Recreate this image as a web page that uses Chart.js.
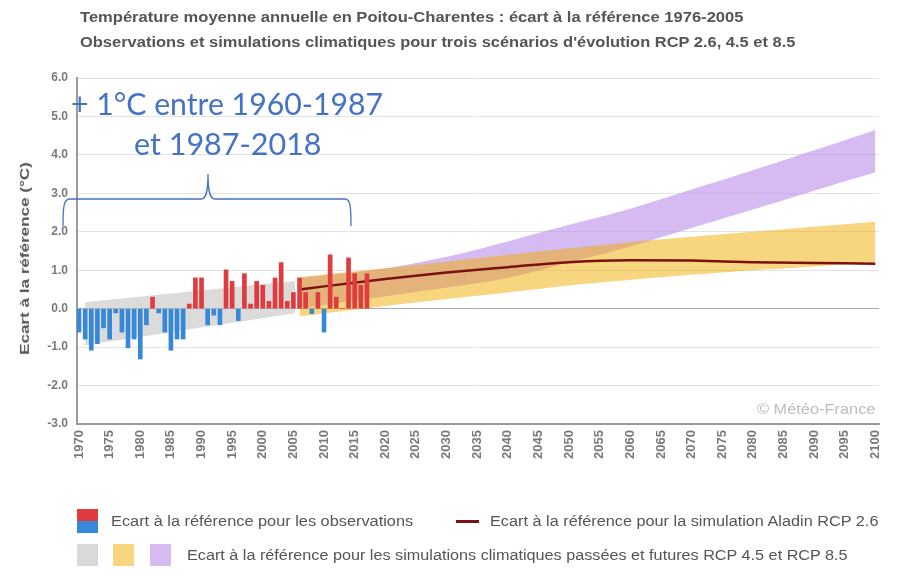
<!DOCTYPE html>
<html lang="fr">
<head>
<meta charset="utf-8">
<title>Température moyenne annuelle en Poitou-Charentes</title>
<script src="https://cdn.jsdelivr.net/npm/chart.js@4.4.1/dist/chart.umd.min.js"></script>
<style>
  body { margin: 0; background: #fff; }
  #wrap { position: relative; width: 897px; height: 577px; overflow: hidden; font-family: "Liberation Sans", Arial, sans-serif; }
  #chart { position: absolute; left: 0; top: 0; }
  .txt { position: absolute; white-space: nowrap; transform-origin: left center; line-height: 1; }
  .title { font-weight: bold; font-size: 14px; color: #555; }
  .leg { font-size: 14px; color: #555; }
  .note { font-family: Lato, "Open Sans", sans-serif; font-size: 30px; color: #4472C4; }
  .sw { position: absolute; }
  #brace { position: absolute; left: 0; top: 0; pointer-events: none; }
</style>
</head>
<body>
<div id="wrap">
  <canvas id="chart" width="897" height="577"></canvas>

  <div class="txt title" id="title1">Température moyenne annuelle en Poitou-Charentes : écart à la référence 1976-2005</div>
  <div class="txt title" id="title2">Observations et simulations climatiques pour trois scénarios d'évolution RCP 2.6, 4.5 et 8.5</div>
  <div class="txt title" id="ytitle" style="font-size:13px">Ecart à la référence (°C)</div>
  <div class="txt leg" id="watermark" style="color:#bdbdbd">© Météo-France</div>

  <div class="txt note" id="note1">+ 1°C entre 1960-1987</div>
  <div class="txt note" id="note2">et 1987-2018</div>
  <svg id="brace" width="897" height="577">
    <path d="M63,226 C63,205 64,199 70,199 L201,199 C206,199 208,192 208,174 C208,192 210,199 215,199 L345,199 C350,199 351,205 351,226"
          fill="none" stroke="#4472C4" stroke-width="1.3"/>
  </svg>

  <!-- légende -->
  <div class="sw" style="left:77px;top:509px;width:21px;height:12px;background:#E03C40"></div>
  <div class="sw" style="left:77px;top:521px;width:21px;height:12px;background:#3788D6"></div>
  <div class="txt leg" id="leg1">Ecart à la référence pour les observations</div>
  <div class="sw" style="left:456px;top:520px;width:23px;height:3px;background:#7A1212"></div>
  <div class="txt leg" id="leg2">Ecart à la référence pour la simulation Aladin RCP 2.6</div>
  <div class="sw" style="left:77px;top:544px;width:21px;height:22px;background:#D9D9D9"></div>
  <div class="sw" style="left:113px;top:544px;width:21px;height:22px;background:#F8D57E"></div>
  <div class="sw" style="left:150px;top:544px;width:21px;height:22px;background:#D5BBF2"></div>
  <div class="txt leg" id="leg3">Ecart à la référence pour les simulations climatiques passées et futures RCP 4.5 et RCP 8.5</div>
</div>

<script>
// observations (écart annuel, °C)
const obsYears = [1970, 1971, 1972, 1973, 1974, 1975, 1976, 1977, 1978, 1979,
  1980, 1981, 1982, 1983, 1984, 1985, 1986, 1987, 1988, 1989,
  1990, 1991, 1992, 1993, 1994, 1995, 1996, 1997, 1998, 1999,
  2000, 2001, 2002, 2003, 2004, 2005, 2006, 2007, 2008, 2009,
  2010, 2011, 2012, 2013, 2014, 2015, 2016, 2017];
const obsValues = [-0.61, -0.79, -1.08, -0.91, -0.50, -0.79, -0.11, -0.61, -1.02, -0.79,
  -1.31, -0.42, 0.30, -0.11, -0.61, -1.08, -0.79, -0.79, 0.12, 0.80,
  0.80, -0.42, -0.17, -0.42, 1.01, 0.71, -0.31, 0.91, 0.12, 0.71,
  0.61, 0.19, 0.80, 1.20, 0.19, 0.42, 0.80, 0.42, -0.13, 0.42,
  -0.61, 1.40, 0.30, 0.00, 1.32, 0.91, 0.61, 0.91];

// simulations passées (enveloppe grise)
const histYears = [1971, 2005.3];
const histLow = [-0.95, -0.12];
const histHigh = [0.17, 0.72];

// simulations futures
const futYears = [2006, 2020, 2030, 2040, 2050, 2060, 2070, 2080, 2090, 2100];
const rcp45Low = [-0.20, 0.07, 0.25, 0.42, 0.60, 0.75, 0.88, 1.00, 1.10, 1.20];
const rcp45High = [0.82, 1.05, 1.22, 1.40, 1.57, 1.73, 1.87, 2.00, 2.13, 2.26];
const rcp85Low = [0.00, 0.32, 0.55, 0.80, 1.20, 1.62, 2.10, 2.58, 3.07, 3.55];
const rcp85High = [0.80, 1.05, 1.35, 1.75, 2.18, 2.60, 3.10, 3.60, 4.12, 4.65];

// Aladin RCP 2.6
const aladinYears = [2006, 2010, 2020, 2030, 2040, 2050, 2060, 2070, 2080, 2090, 2100];
const aladinValues = [0.50, 0.58, 0.77, 0.94, 1.08, 1.21, 1.26, 1.25, 1.21, 1.19, 1.17];

const RED = "#E03C40";
const BLUE = "#3788D6";

function pts(xs, ys) {
  return xs.map((x, i) => ({ x: x, y: ys[i] }));
}

function band(xs, ys, order, fill, color) {
  return {
    type: "line",
    data: pts(xs, ys),
    order: order,
    borderWidth: 0,
    borderColor: "rgba(0,0,0,0)",
    backgroundColor: color || "rgba(0,0,0,0)",
    pointRadius: 0,
    tension: 0.3,
    fill: fill
  };
}

const ctx = document.getElementById("chart").getContext("2d");
new Chart(ctx, {
  type: "bar",
  data: {
    datasets: [
      {
        label: "observations",
        data: pts(obsYears, obsValues),
        order: 0,
        backgroundColor: obsValues.map(v => v >= 0 ? RED : BLUE),
        borderWidth: 0,
        barThickness: 4
      },
      {
        type: "line",
        label: "Aladin RCP 2.6",
        data: pts(aladinYears, aladinValues),
        order: 1,
        borderColor: "#7A1212",
        borderWidth: 2.5,
        pointRadius: 0,
        cubicInterpolationMode: "monotone",
        fill: false
      },
      band(futYears, rcp45Low, 2, false),
      band(futYears, rcp45High, 2, 2, "rgba(241, 172, 0, 0.5)"),
      band(futYears, rcp85Low, 3, false),
      band(futYears, rcp85High, 3, 4, "rgba(185, 142, 233, 0.6)"),
      band(histYears, histLow, 4, false),
      band(histYears, histHigh, 4, 6, "rgba(190, 190, 190, 0.55)")
    ]
  },
  options: {
    responsive: false,
    animation: false,
    layout: { padding: { left: 0, right: 16, top: 78, bottom: 113 } },
    plugins: {
      legend: { display: false },
      tooltip: { enabled: false }
    },
    scales: {
      x: {
        type: "linear",
        min: 1969.67,
        max: 2100.6,
        offset: false,
        grid: { display: false, drawTicks: false },
        border: { display: true, color: "#9a9a9a", width: 2 },
        afterFit: s => { s.height = 40; },
        ticks: {
          stepSize: 5,
          includeBounds: false,
          autoSkip: false,
          minRotation: 90,
          maxRotation: 90,
          padding: 6,
          color: "#7a7a7a",
          font: { family: "Liberation Sans", size: 13, weight: "bold" },
          callback: v => String(v)
        }
      },
      y: {
        min: -3,
        max: 6,
        grid: {
          drawTicks: false,
          color: c => c.tick && c.tick.value === 0 ? "#ababab" : "#e3e3e3"
        },
        border: { display: true, color: "#9a9a9a", width: 2 },
        afterFit: s => { s.width = 77; },
        ticks: {
          stepSize: 1,
          padding: 9,
          color: "#7a7a7a",
          font: { family: "Liberation Sans", size: 12, weight: "bold" },
          callback: v => Number(v).toFixed(1)
        }
      }
    }
  }
});

// placement des textes : gauche, centre vertical, largeur visée
function place(id, left, cy, width) {
  const el = document.getElementById(id);
  const w = el.offsetWidth, h = el.offsetHeight;
  el.style.left = left + "px";
  el.style.top = (cy - h / 2) + "px";
  el.style.transform = `scaleX(${width / w})`;
}

function placeCenter(id, cx, cy, width) {
  place(id, cx - width / 2, cy, width);
}

place("title1", 80, 17, 664);
place("title2", 80, 42, 715);
place("leg1", 111, 521, 302);
place("leg2", 490, 521, 388);
place("leg3", 187, 555, 661);
place("watermark", 757, 409, 118);
placeCenter("note1", 227, 103, 312);
placeCenter("note2", 228, 143, 188);

const yt = document.getElementById("ytitle");
const ytw = yt.offsetWidth, yth = yt.offsetHeight;
yt.style.left = (24 - ytw / 2) + "px";
yt.style.top = (258 - yth / 2) + "px";
yt.style.transformOrigin = "center center";
yt.style.transform = `rotate(-90deg) scaleX(${193 / ytw})`;
</script>
</body>
</html>
